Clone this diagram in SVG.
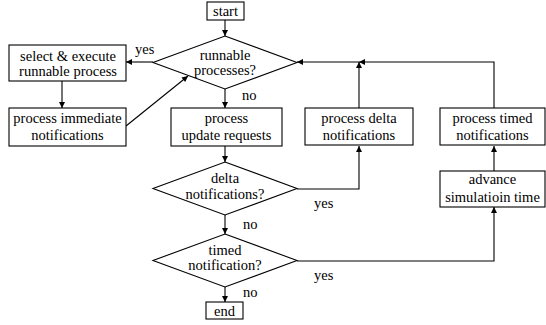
<svg xmlns="http://www.w3.org/2000/svg" width="546" height="325" viewBox="0 0 546 325">
<style>
.box{fill:#fff;stroke:#000;stroke-width:1.1}
text{font-family:'Liberation Serif','Times New Roman','DejaVu Serif',serif;font-size:14.5px;fill:#000}
.t{text-anchor:middle}
.c{fill:none;stroke:#000;stroke-width:1.1;marker-end:url(#ah)}
</style>
<defs>
<marker id="ah" viewBox="0 0 10 10" refX="10" refY="5" markerWidth="8" markerHeight="6" markerUnits="userSpaceOnUse" orient="auto">
<path d="M0,0 L10,5 L0,10 z" fill="#000"/>
</marker>
</defs>
<rect width="546" height="325" fill="#fff"/>
<g id="connectors">
<path class="c" d="M225,20 V36"/>
<path class="c" d="M153,62 H126"/>
<path class="c" d="M62,81 V108"/>
<path class="c" d="M126,126 L188,76"/>
<path class="c" d="M225,89 V108"/>
<path class="c" d="M225,146 V162"/>
<path class="c" d="M297,189 H359 V146"/>
<path class="c" d="M359,108 V62"/>
<path class="c" d="M494,108 V62 H359"/>
<path class="c" d="M359,62 H297"/>
<path class="c" d="M225,215 V234"/>
<path class="c" d="M297,261 H494 V207"/>
<path class="c" d="M494,171 V146"/>
<path class="c" d="M225,287 V302"/>
</g>
<g id="start"><rect class="box" x="207" y="2" width="37" height="18"/><text class="t" x="225.5" y="16">start</text></g>
<g id="runnable"><polygon class="box" points="225,36 297,62.5 225,89 153,62.5"/><text class="t" x="225" y="60">runnable</text><text class="t" x="225" y="75">processes?</text></g>
<g id="select"><rect class="box" x="9" y="45" width="117" height="36"/><text class="t" x="68" y="60.5">select &amp; execute</text><text class="t" x="68" y="76">runnable process</text></g>
<g id="immediate"><rect class="box" x="9" y="108" width="117" height="38"/><text class="t" x="67.5" y="122.5">process immediate</text><text class="t" x="67.5" y="139.5">notifications</text></g>
<g id="update"><rect class="box" x="171" y="108" width="111" height="38"/><text class="t" x="226.5" y="122.5">process</text><text class="t" x="226.5" y="139.5">update requests</text></g>
<g id="pdelta"><rect class="box" x="305" y="108" width="108" height="37"/><text class="t" x="359" y="122.5">process delta</text><text class="t" x="359" y="139.5">notifications</text></g>
<g id="ptimed"><rect class="box" x="440" y="108" width="105" height="37"/><text class="t" x="492.5" y="122.5">process timed</text><text class="t" x="492.5" y="139.5">notifications</text></g>
<g id="delta"><polygon class="box" points="225,162 297,188.5 225,215 153,188.5"/><text class="t" x="225" y="183">delta</text><text class="t" x="225" y="198.5">notifications?</text></g>
<g id="advance"><rect class="box" x="440" y="171" width="105" height="36"/><text class="t" x="492.5" y="184">advance</text><text class="t" x="492.5" y="202">simulatioin time</text></g>
<g id="timed"><polygon class="box" points="225,234 297,260.5 225,287 153,260.5"/><text class="t" x="225" y="254.5">timed</text><text class="t" x="225" y="270">notification?</text></g>
<g id="end"><rect class="box" x="206" y="302" width="37" height="17"/><text class="t" x="224.5" y="315.5">end</text></g>
<g id="labels">
<text x="135" y="54">yes</text>
<text x="242" y="99.5">no</text>
<text x="314" y="207.5">yes</text>
<text x="243" y="229">no</text>
<text x="314" y="279.5">yes</text>
<text x="243" y="297">no</text>
</g>
</svg>
